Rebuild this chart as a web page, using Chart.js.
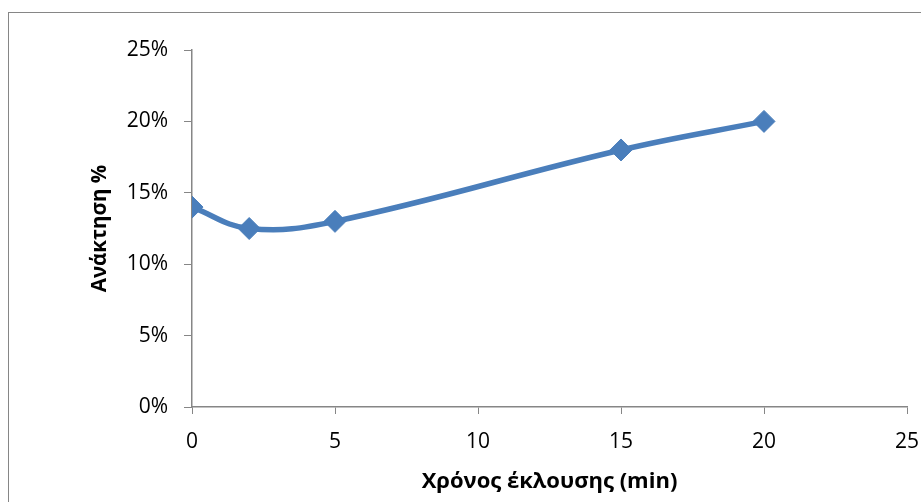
<!DOCTYPE html>
<html lang="el">
<head>
  <meta charset="UTF-8">
  <title>Ανάκτηση %</title>
  <script src="https://cdn.jsdelivr.net/npm/chart.js"></script>
  <style>
    html, body { margin: 0; padding: 0; background: #fff; overflow: hidden; }
    #wrap { position: relative; width: 921px; height: 502px; }
    #frame { position: absolute; left: 8px; top: 12px; width: 1000px; height: 1000px;
             border: 1px solid #868686; pointer-events: none; }
  </style>
</head>
<body>
  <div id="wrap">
    <canvas id="chart" width="921" height="502"></canvas>
    <div id="frame"></div>
  </div>

  <script>
    const times = [0, 2, 5, 15, 20];
    const recovery = [14, 12.5, 13, 18, 20];
    const xTicks = [0, 5, 10, 15, 20, 25];
    const yTicks = [0, 5, 10, 15, 20, 25];

    const axisGrey = '#868686';
    const blue = '#4A7EBB';
    const font = 'Open Sans';

    new Chart(document.getElementById('chart'), {
      type: 'scatter',
      data: {
        datasets: [{
          data: times.map((t, i) => ({ x: t, y: recovery[i] })),
          showLine: true,
          borderColor: blue,
          backgroundColor: blue,
          borderWidth: 5.5,
          tension: 0.4,
          pointStyle: 'rectRot',
          pointRadius: 11,
          pointBorderWidth: 1,
          pointBorderColor: blue,
          pointBackgroundColor: blue
        }]
      },
      options: {
        responsive: false,
        animation: false,
        layout: { padding: { left: 88, right: 14, top: 50, bottom: 7 } },
        plugins: { legend: { display: false }, tooltip: { enabled: false } },
        scales: {
          x: {
            type: 'linear',
            min: 0, max: 25,
            afterBuildTicks: s => { s.ticks = xTicks.map(v => ({ value: v })); },
            afterFit: s => { s.height = 88; s.paddingLeft = 0; s.paddingRight = 0; },
            grid: { drawOnChartArea: false, drawTicks: true, tickLength: 7, color: axisGrey },
            border: { color: axisGrey, width: 1.5 },
            ticks: { color: '#000', padding: 15, font: { family: font, size: 21 } },
            title: {
              display: true,
              text: 'Χρόνος έκλουσης (min)',
              color: '#000',
              padding: 0,
              font: { family: font, size: 22, weight: 'bold' }
            }
          },
          y: {
            min: 0, max: 25,
            afterBuildTicks: s => { s.ticks = yTicks.map(v => ({ value: v })); },
            afterFit: s => { s.width = 104; },
            grid: { drawOnChartArea: false, drawTicks: true, tickLength: 8, color: axisGrey },
            border: { color: axisGrey, width: 1.5 },
            ticks: {
              color: '#000', padding: 16,
              font: { family: font, size: 21 },
              callback: v => v + '%'
            },
            title: {
              display: true,
              text: 'Ανάκτηση %',
              color: '#000',
              padding: 0,
              font: { family: font, size: 20.5, weight: 'bold' }
            }
          }
        }
      }
    });
  </script>
</body>
</html>
